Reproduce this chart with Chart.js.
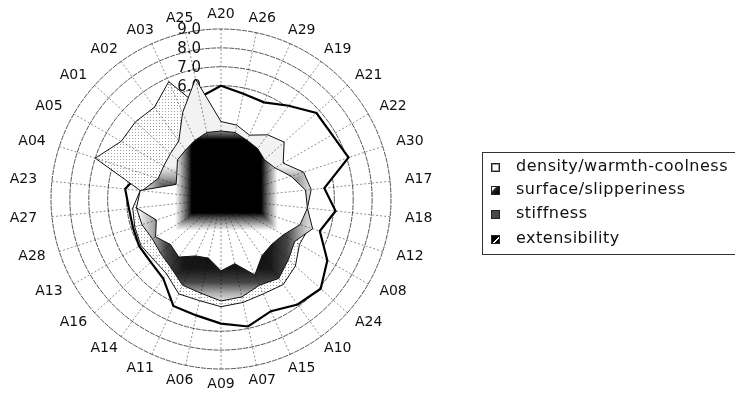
<!DOCTYPE html>
<html><head><meta charset="utf-8">
<script src="https://cdn.jsdelivr.net/npm/chart.js@4.4.1/dist/chart.umd.min.js"></script>
<style>
html,body{margin:0;padding:0;background:#fff;overflow:hidden}
#wrap{position:relative;width:735px;height:393px;overflow:hidden}
#c{position:absolute;left:0;top:0}
#legend{position:absolute;left:482px;top:152px;width:280px;height:103px;border:1px solid #333;box-sizing:border-box;font-family:"DejaVu Sans",sans-serif;font-size:16px;letter-spacing:0.5px;color:#111}
.item{position:absolute;left:8px;height:20px;line-height:20px;white-space:nowrap}
.ico{display:inline-block;width:9px;height:9px;border:1px solid #222;vertical-align:-1px;margin-right:16px;box-sizing:border-box}
</style></head>
<body><div id="wrap"><canvas id="c" width="735" height="393"></canvas><div id="legend"></div></div>
<script>
const categories = ['A20','A26','A29','A19','A21','A22','A30','A17','A18','A12','A08','A24','A10','A15','A07','A09','A06','A11','A14','A16','A13','A28','A27','A23','A04','A05','A01','A02','A03','A25'];
const seriesNames = ['density/warmth-coolness','surface/slipperiness','stiffness','extensibility'];
const density      = [6.0,5.7,5.6,6.1,6.8,6.8,7.1,5.5,6.1,5.5,6.5,7.1,6.9,6.5,6.9,6.6,6.3,6.2,5.2,5.0,5.0,4.9,4.9,5.1,4.5,4.8,4.8,5.0,5.5,5.5];
const surface      = [3.6,3.6,3.4,3.3,3.1,3.3,3.9,4.5,4.6,4.4,3.8,3.6,3.7,4.4,3.5,3.8,3.2,3.3,3.8,3.6,4.0,3.6,4.5,4.3,2.5,2.7,3.1,3.2,3.4,3.6];
const stiffness    = [4.0,3.8,3.6,3.9,4.2,3.6,4.3,4.6,4.4,4.9,4.8,5.3,5.6,5.5,5.6,5.7,5.5,5.5,4.9,4.8,4.9,4.8,4.7,4.3,7.0,6.1,6.1,6.0,6.8,4.9];
const extensibility= [4.1,4.0,3.7,4.2,4.5,3.8,4.6,4.8,4.6,5.1,4.5,4.8,5.2,5.0,5.3,5.4,5.1,5.0,4.5,4.3,4.2,4.4,4.5,4.2,3.5,3.5,3.6,3.8,5.0,6.5];
const tickValues = [0,1,2,3,4,5,6,7,8,9];
const tickLabels = ['0.0','1.0','2.0','3.0','4.0','5.0','6.0','7.0','8.0','9.0'];

const cache = {};
let dotPat = null;
function grayAt(stops, t){
  if (t <= stops[0][0]) return stops[0][1];
  for (let i=1;i<stops.length;i++){
    if (t <= stops[i][0]){
      const a=stops[i-1], b=stops[i];
      return a[1] + (b[1]-a[1])*(t-a[0])/(b[0]-a[0]);
    }
  }
  return stops[stops.length-1][1];
}
function rectGradient(chart, key, spec){
  const s = chart.scales && chart.scales.r;
  if (!s || !isFinite(s.xCenter) || !s.drawingArea) return spec.fallback;
  const id = key+':'+s.xCenter+','+s.yCenter+','+s.drawingArea;
  if (cache[id]) return cache[id];
  const off = document.createElement('canvas');
  off.width = chart.width; off.height = chart.height;
  const g = off.getContext('2d');
  const unit = s.getDistanceFromCenterForValue(1) - s.getDistanceFromCenterForValue(0);
  const cx = s.xCenter + spec.dx*unit, cy = s.yCenter + spec.dy*unit;
  const hw = spec.hw*unit, hh = spec.hh*unit;
  const o = spec.outer; g.fillStyle = 'rgb('+o+','+o+','+o+')';
  g.fillRect(0,0,off.width,off.height);
  const N = 160;
  for (let k=N;k>=0;k--){
    const t=k/N, v=Math.round(grayAt(spec.stops,t));
    g.fillStyle='rgb('+v+','+v+','+v+')';
    g.fillRect(cx-hw*t, cy-hh*t, 2*hw*t, 2*hh*t);
  }
  cache[id] = chart.ctx.createPattern(off,'no-repeat');
  return cache[id];
}
function dots(chart){
  if (dotPat) return dotPat;
  const t=document.createElement('canvas'); t.width=3; t.height=3;
  const g=t.getContext('2d'); g.fillStyle='#fff'; g.fillRect(0,0,3,3);
  g.fillStyle='#a0a0a0'; g.fillRect(0,0,1,1);
  dotPat = chart.ctx.createPattern(t,'repeat'); return dotPat;
}
const surfaceSpec = {dx:0.29, dy:-1.2, hw:2.7, hh:2.85, outer:255, fallback:'#888',
  stops:[[0,0],[0.68,0],[0.76,70],[0.86,150],[0.94,210],[1,250]]};
const extSpec = {dx:0.3, dy:1.9, hw:4.6, hh:3.6, outer:242, fallback:'#aaa',
  stops:[[0,15],[0.5,25],[0.7,70],[0.85,170],[1,238]]};

const tickColumn = {
  id:'tickColumn',
  beforeDatasetsDraw(chart){
    const s=chart.scales.r, c=chart.ctx;
    c.save(); c.font='15px "DejaVu Sans"'; c.fillStyle='#111';
    c.textAlign='right'; c.textBaseline='middle';
    tickValues.forEach((v,i)=>{
      c.fillText(tickLabels[i], s.xCenter-20, s.yCenter - s.getDistanceFromCenterForValue(v) + 1);
    });
    c.restore();
  }
};
const spokes = {
  id:'spokes',
  afterDatasetsDraw(chart){
    const s=chart.scales.r, c=chart.ctx;
    c.save(); c.strokeStyle='rgba(0,0,0,0.55)'; c.lineWidth=0.8; c.setLineDash([2,2]);
    categories.forEach((_,i)=>{
      const p=s.getPointPosition(i, s.getDistanceFromCenterForValue(9));
      c.beginPath(); c.moveTo(s.xCenter,s.yCenter); c.lineTo(p.x,p.y); c.stroke();
    });
    c.restore();
  }
};
const axisLabels = {
  id:'axisLabels',
  afterDraw(chart){
    const s=chart.scales.r, c=chart.ctx;
    const R=s.getDistanceFromCenterForValue(9), padX=15, padY=7, h=16;
    c.save(); c.font='14px "DejaVu Sans"'; c.fillStyle='#111';
    c.textAlign='center'; c.textBaseline='middle';
    categories.forEach((lab,i)=>{
      const a=s.getIndexAngle(i), sn=Math.sin(a), cs=Math.cos(a);
      const w=c.measureText(lab).width;
      const x=s.xCenter + (R+padX)*sn + (w/2)*sn;
      const y=s.yCenter - (R+padY)*cs - (h/2)*cs;
      c.fillText(lab, x, y);
    });
    c.restore();
  }
};

const chart = new Chart(document.getElementById('c'), {
  type:'radar',
  data:{
    labels:categories,
    datasets:[
      {label:seriesNames[0], data:density, order:4, fill:true, backgroundColor:'#ffffff', borderColor:'#000', borderWidth:2.2, pointRadius:0},
      {label:seriesNames[1], data:surface, order:1, fill:true, backgroundColor:(ctx)=>rectGradient(ctx.chart,'surface',surfaceSpec), borderColor:'#111', borderWidth:1, pointRadius:0},
      {label:seriesNames[2], data:stiffness, order:3, fill:true, backgroundColor:(ctx)=>dots(ctx.chart), borderColor:'#111', borderWidth:1, pointRadius:0},
      {label:seriesNames[3], data:extensibility, order:2, fill:true, backgroundColor:(ctx)=>rectGradient(ctx.chart,'ext',extSpec), borderColor:'#111', borderWidth:1, pointRadius:0}
    ]
  },
  options:{
    responsive:false, animation:false,
    layout:{padding:{left:51,right:344,top:29,bottom:24}},
    plugins:{legend:{display:false}, tooltip:{enabled:false}},
    elements:{line:{tension:0}},
    scales:{r:{
      min:0, max:9, startAngle:0,
      ticks:{display:false, stepSize:1},
      grid:{circular:true, color:'#2a2a2a', lineWidth:0.8},
      border:{dash:[5,1]},
      angleLines:{display:false},
      pointLabels:{display:false}
    }}
  },
  plugins:[tickColumn, spokes, axisLabels]
});

const icons = [
  'background:#fff;box-shadow:inset 0 0 0 1px #999',
  'background:linear-gradient(135deg,#fff 0 22%,#222 38%,#000)',
  'background-color:#ccc;background-image:radial-gradient(#444 0.7px,transparent 0.9px);background-size:2px 2px',
  'background:linear-gradient(135deg,#000 0 55%,#fff 56% 70%,#000 71%)'
];
const tops=[3,26,50,75];
const leg=document.getElementById('legend');
chart.data.datasets.forEach((d,i)=>{
  const it=document.createElement('div'); it.className='item'; it.style.top=tops[i]+'px';
  const ic=document.createElement('span'); ic.className='ico'; ic.style.cssText=icons[i];
  it.appendChild(ic); it.appendChild(document.createTextNode(d.label));
  leg.appendChild(it);
});
</script></body></html>
